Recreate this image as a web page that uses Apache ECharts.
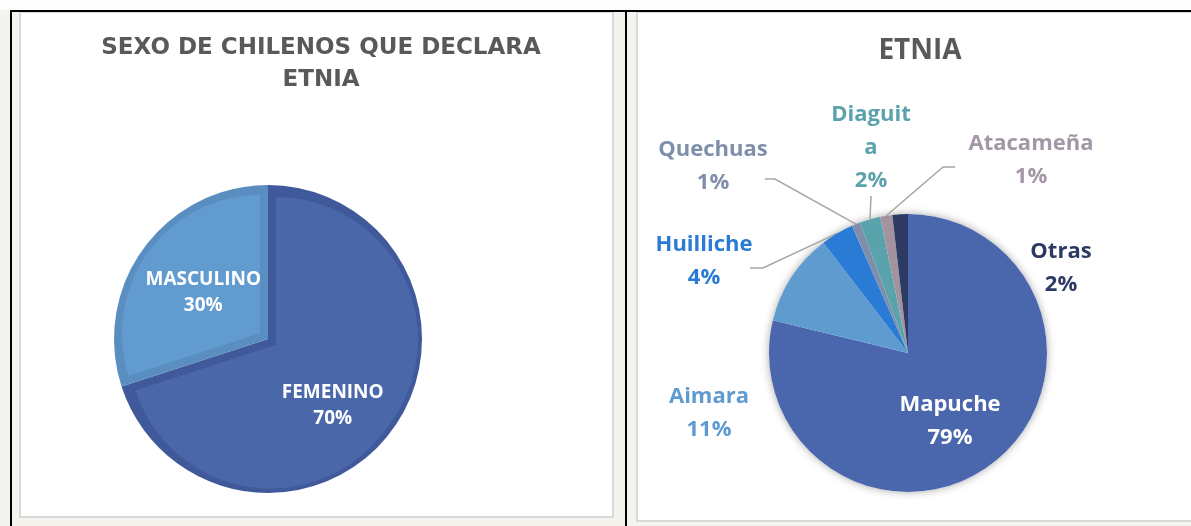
<!DOCTYPE html>
<html>
<head>
<meta charset="utf-8">
<script src="https://cdn.jsdelivr.net/npm/echarts@6/dist/echarts.min.js"></script>
<style>
  html, body { margin: 0; padding: 0; background: #f5f3ee; }
  #main { width: 1191px; height: 526px; }
</style>
</head>
<body>
<div id="main"></div>
<script>
// datos
var sexoNombres = ['FEMENINO', 'MASCULINO'];
var sexoValores = [70, 30];

var etniaNombres = ['Mapuche', 'Aimara', 'Huilliche', 'Quechuas', 'Diaguita', 'Atacameña', 'Otras'];
var etniaValores = [78.7, 10.8, 3.8, 1.0, 2.4, 1.4, 1.8];

// estilo
var sexoColores = ['#4a67aa', '#619bcf'];
var sexoBordes = ['#40599a', '#5a8dc0'];
var etniaColores = ['#4a67ad', '#609bd0', '#2a7bd5', '#7e8fab', '#5aa2ac', '#a3939f', '#2c3a64'];
var etniaTexto = ['#ffffff', '#609bd0', '#2a7bd5', '#7f8fab', '#5aa2ac', '#a396a6', '#2c3a64'];

var pieSexo = { cx: 268, cy: 339, r: 154, borde: 8 };
var pieEtnia = { cx: 908, cy: 353, r: 139 };

// desplazamiento de etiquetas (izq) y posicion de etiquetas (der)
var sexoDesplaz = [[0, 20], [0, 1]];
var etniaEtiq = [[950, 421], [709, 413], [704, 261], [713, 166], [871, 148], [1031, 160], [1061, 268]];
// puntos de la guia relativos a la etiqueta: [quiebre, final]
var etniaGuia = [null, null, [[59, 7], [46, 7]], [[62, 13], [52, 13]], [[0, 48], [0, 48]], [[-88, 7], [-76, 7]], null];

var transparente = 'rgba(0,0,0,0)';

// bisel interior de cada sector (grafico de sexo)
function capasBisel(valores, colores) {
  var total = valores.reduce(function (a, b) { return a + b; }, 0);
  var capas = [];
  var inicio = 90;
  var b = pieSexo.borde;
  valores.forEach(function (v, i) {
    var span = 360 * v / total;
    var fin = inicio - span;
    var trozos = [];
    if (span <= 180) {
      var h = span / 2 * Math.PI / 180;
      var d = b / Math.sin(h);
      trozos.push({ ang: inicio - span / 2, d: d, start: inicio, span: span, r: pieSexo.r - b - d * (1 + Math.cos(h)) / 2 });
    } else {
      trozos.push({ ang: inicio - 90, d: b, start: inicio, span: 180, r: pieSexo.r - b * 1.5 });
      trozos.push({ ang: fin + 90, d: b, start: fin + 180, span: 180, r: pieSexo.r - b * 1.5 });
    }
    trozos.forEach(function (t) {
      var a = t.ang * Math.PI / 180;
      capas.push({
        type: 'pie',
        silent: true,
        z: 3,
        center: [pieSexo.cx + t.d * Math.cos(a), pieSexo.cy - t.d * Math.sin(a)],
        radius: t.r,
        startAngle: t.start,
        clockwise: true,
        label: { show: false },
        labelLine: { show: false },
        emphasis: { disabled: true },
        itemStyle: { borderWidth: 0 },
        data: [
          { value: t.span, itemStyle: { color: colores[i] } },
          { value: 360 - t.span, itemStyle: { color: transparente } }
        ]
      });
    });
    inicio = fin;
  });
  return capas;
}

var chartContainer = document.getElementById('main');
var myChart = echarts.init(chartContainer);

var series = [];

// base del grafico de sexo (color del borde)
series.push({
  type: 'pie',
  silent: true,
  z: 2,
  center: [pieSexo.cx, pieSexo.cy],
  radius: pieSexo.r,
  startAngle: 90,
  clockwise: true,
  label: { show: false },
  labelLine: { show: false },
  emphasis: { disabled: true },
  itemStyle: { borderWidth: 0 },
  data: sexoNombres.map(function (n, i) {
    return { name: n, value: sexoValores[i], itemStyle: { color: sexoBordes[i] } };
  })
});

series = series.concat(capasBisel(sexoValores, sexoColores));

// etiquetas del grafico de sexo
series.push({
  type: 'pie',
  silent: true,
  z: 4,
  center: [pieSexo.cx, pieSexo.cy],
  radius: pieSexo.r,
  startAngle: 90,
  clockwise: true,
  percentPrecision: 0,
  emphasis: { disabled: true },
  itemStyle: { color: transparente, borderWidth: 0 },
  label: {
    position: 'inside',
    formatter: '{b}\n{d}%',
    color: '#ffffff',
    fontFamily: 'Open Sans',
    fontWeight: 'bold',
    fontSize: 19,
    lineHeight: 26
  },
  labelLayout: function (p) {
    var o = sexoDesplaz[p.dataIndex];
    return { dx: o[0], dy: o[1] };
  },
  data: sexoNombres.map(function (n, i) {
    return { name: n, value: sexoValores[i] };
  })
});

// sombra del grafico de etnia
series.push({
  type: 'pie',
  silent: true,
  z: 2,
  center: [pieEtnia.cx, pieEtnia.cy],
  radius: pieEtnia.r,
  label: { show: false },
  labelLine: { show: false },
  emphasis: { disabled: true },
  itemStyle: { color: '#ffffff', borderWidth: 0, shadowBlur: 8, shadowColor: 'rgba(0,0,0,0.35)' },
  data: [{ value: etniaValores.reduce(function (a, b) { return a + b; }, 0) }]
});

// grafico de etnia
series.push({
  type: 'pie',
  z: 3,
  silent: true,
  center: [pieEtnia.cx, pieEtnia.cy],
  radius: pieEtnia.r,
  startAngle: 90,
  clockwise: true,
  avoidLabelOverlap: false,
  percentPrecision: 0,
  emphasis: { disabled: true },
  itemStyle: { borderWidth: 0 },
  label: {
    formatter: '{b}\n{d}%',
    fontFamily: 'Open Sans',
    fontWeight: 'bold',
    fontSize: 22,
    lineHeight: 33
  },
  labelLine: {
    show: true,
    lineStyle: { color: '#a6a6a6', width: 1.5 }
  },
  labelLayout: function (p) {
    var i = p.dataIndex;
    var pos = etniaEtiq[i];
    var out = { x: pos[0], y: pos[1], align: 'center', verticalAlign: 'middle' };
    var g = etniaGuia[i];
    if (g && p.labelLinePoints) {
      out.labelLinePoints = [
        p.labelLinePoints[0],
        [pos[0] + g[0][0], pos[1] + g[0][1]],
        [pos[0] + g[1][0], pos[1] + g[1][1]]
      ];
    }
    return out;
  },
  data: etniaNombres.map(function (n, i) {
    var d = {
      name: n,
      value: etniaValores[i],
      itemStyle: { color: etniaColores[i] },
      label: { color: etniaTexto[i] }
    };
    if (i === 0) {
      d.label.position = 'inside';
    }
    if (!etniaGuia[i]) {
      d.labelLine = { show: false };
    }
    if (n === 'Diaguita') {
      d.label.width = 88;
      d.label.overflow = 'breakAll';
    }
    return d;
  })
});

myChart.setOption({
  animation: false,
  backgroundColor: 'transparent',
  title: [{
    text: 'SEXO DE CHILENOS QUE DECLARA\nETNIA',
    left: 316,
    top: 27,
    textAlign: 'center',
    textStyle: { fontFamily: 'DejaVu Sans', fontWeight: 'bold', fontSize: 23, lineHeight: 32, color: '#595959' }
  }, {
    text: 'ETNIA',
    left: 915,
    top: 28,
    textAlign: 'center',
    textStyle: { fontFamily: 'Open Sans', fontWeight: 'bold', fontSize: 28, lineHeight: 36, color: '#595959' }
  }],
  graphic: [
    { type: 'rect', shape: { x: 0, y: 0, width: 1191, height: 10 }, style: { fill: '#fdfdfd' } },
    { type: 'rect', shape: { x: 20, y: 12, width: 593, height: 505 }, style: { fill: '#ffffff', stroke: '#d9d9d9', lineWidth: 2 } },
    { type: 'rect', shape: { x: 637, y: 12, width: 560, height: 509 }, style: { fill: '#ffffff', stroke: '#d9d9d9', lineWidth: 2 } },
    { type: 'rect', shape: { x: 10, y: 10, width: 1181, height: 2 }, style: { fill: '#000000' } },
    { type: 'rect', shape: { x: 10, y: 10, width: 2, height: 516 }, style: { fill: '#000000' } },
    { type: 'rect', shape: { x: 625, y: 10, width: 2, height: 516 }, style: { fill: '#000000' } }
  ],
  series: series
});
</script>
</body>
</html>
